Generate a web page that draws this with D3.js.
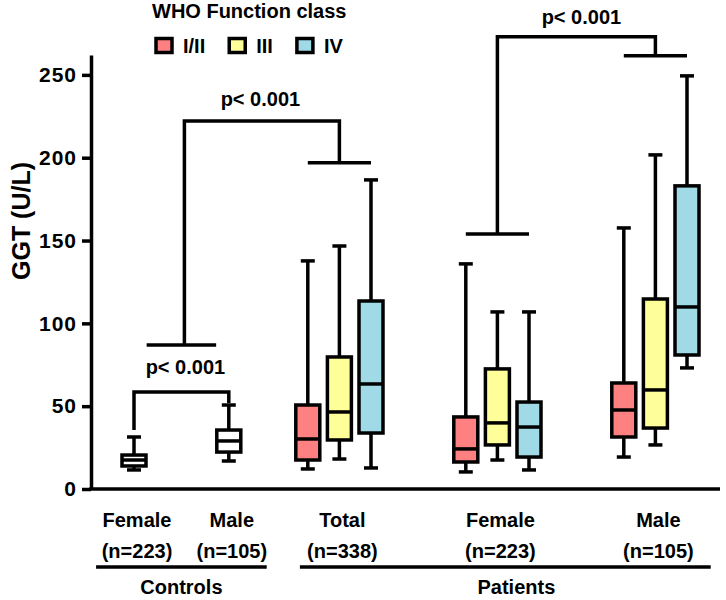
<!DOCTYPE html>
<html><head><meta charset="utf-8">
<script src="https://cdn.jsdelivr.net/npm/d3@7"></script>
<style>
body{margin:0;background:#fff}
svg{display:block}
text{font-family:"Liberation Sans",Arial,Helvetica,sans-serif;font-weight:bold;fill:#000}
</style>
</head><body>
<svg id="chart" width="726" height="600"></svg>
<script>
// ---------- DATA ----------
const classes = ["I/II", "III", "IV"];
const groupNames = ["Female", "Male", "Total", "Female", "Male"];
const groupN = ["(n=223)", "(n=105)", "(n=338)", "(n=223)", "(n=105)"];
const cohorts = ["Controls", "Patients"];
const yTicks = [0, 50, 100, 150, 200, 250];
const yTitle = "GGT (U/L)";
const legendTitle = "WHO Function class";
// five-number summaries: [low whisker, Q1, median, Q3, high whisker]
const controlsFemale = [11.5, 13.9, 17.5, 20.5, 31.4];
const controlsMale   = [16.9, 22.3, 29.0, 35.6, 50.7];
const patientsTotal  = [[12.1, 17.5, 30.2, 50.7, 137.7], [18.1, 29.6, 46.5, 79.7, 146.7], [12.7, 33.8, 63.4, 113.5, 186.6]];
const patientsFemale = [[10.3, 16.3, 24.2, 43.5, 135.9], [17.5, 26.6, 39.9, 72.5, 106.9], [11.5, 19.3, 37.4, 52.5, 106.9]];
const patientsMale   = [[19.3, 31.4, 47.7, 64.0, 157.6], [26.6, 36.8, 59.8, 114.7, 201.7], [73.1, 80.9, 109.9, 183.0, 249.4]];
// significance brackets (y in U/L): [left leg end, top, right leg end]
const pLabels = ["p< 0.001", "p< 0.001", "p< 0.001"];
const bracketControls = [35.6, 58.6, 51.9];
const bracketCtrlTotal = [87.0, 222.2, 196.9];
const bracketPatFM = [154.0, 273.0, 261.5];

// ---------- STYLE / LAYOUT ----------
const colors = ["#FF8080", "#FFFF99", "#A0DAE6"];
const svg = d3.select("#chart");
const groupGaps = [3, 2.5, 3, 3];     // slot gaps between groups
const boxW = 24, capW = 14, lw = 3.5;

const groups = [
  {name: groupNames[0], n: groupN[0], boxes: [{cls: -1, s: controlsFemale}]},
  {name: groupNames[1], n: groupN[1], boxes: [{cls: -1, s: controlsMale}]},
  {name: groupNames[2], n: groupN[2], boxes: patientsTotal.map((s, i) => ({cls: i, s}))},
  {name: groupNames[3], n: groupN[3], boxes: patientsFemale.map((s, i) => ({cls: i, s}))},
  {name: groupNames[4], n: groupN[4], boxes: patientsMale.map((s, i) => ({cls: i, s}))}
];
let slot = 0;
groups.forEach((g, i) => {
  if (i > 0) slot += groupGaps[i - 1];
  g.boxes.forEach((b, j) => { b.slot = slot + j; });
  slot += g.boxes.length - 1;
  g.center = d3.mean(g.boxes, b => b.slot);
});

const x = d3.scaleLinear().domain([0, 17.5]).range([134, 687]);
const y = d3.scaleLinear().domain([0, 262]).range([489, 55]);
const axisX = 91, plotRight = 720;

// ---------- AXES ----------
const yAxis = svg.append("g").attr("transform", `translate(${axisX},0)`)
  .call(d3.axisLeft(y).tickValues(yTicks).tickSize(9).tickSizeOuter(0).tickPadding(5));
yAxis.select(".domain").attr("stroke", "#000").attr("stroke-width", lw);
yAxis.selectAll(".tick line").attr("stroke", "#000").attr("stroke-width", lw);
yAxis.selectAll(".tick text").attr("font-size", 21).attr("letter-spacing", 1)
  .attr("font-family", '"Liberation Sans",Arial,sans-serif').attr("font-weight", "bold").attr("fill", "#000");

svg.append("line").attr("x1", axisX - lw / 2).attr("x2", plotRight)
  .attr("y1", y(0)).attr("y2", y(0)).attr("stroke", "#000").attr("stroke-width", lw);

svg.append("text").attr("transform", `translate(30,${(y(0) + y(262)) / 2 - 51}) rotate(-90)`)
  .attr("text-anchor", "middle").attr("font-size", 25).text(yTitle);

// ---------- BOXES ----------
const allBoxes = groups.flatMap(g => g.boxes);
const bg = svg.append("g");
allBoxes.forEach(b => {
  const cx = x(b.slot), [lo, q1, med, q3, hi] = b.s;
  const g = bg.append("g").attr("stroke", "#000").attr("stroke-width", lw);
  g.append("line").attr("x1", cx).attr("x2", cx).attr("y1", y(hi)).attr("y2", y(lo));
  g.append("line").attr("x1", cx - capW / 2).attr("x2", cx + capW / 2).attr("y1", y(hi)).attr("y2", y(hi));
  g.append("line").attr("x1", cx - capW / 2).attr("x2", cx + capW / 2).attr("y1", y(lo)).attr("y2", y(lo));
  g.append("rect").attr("x", cx - boxW / 2).attr("width", boxW)
    .attr("y", y(q3)).attr("height", y(q1) - y(q3))
    .attr("fill", b.cls < 0 ? "#fff" : colors[b.cls]);
  g.append("line").attr("x1", cx - boxW / 2).attr("x2", cx + boxW / 2).attr("y1", y(med)).attr("y2", y(med));
});

// ---------- BRACKETS ----------
const br = svg.append("g").attr("fill", "none").attr("stroke", "#000").attr("stroke-width", lw);
function bar(xc, half, v) {
  br.append("line").attr("x1", x(xc - half)).attr("x2", x(xc + half)).attr("y1", y(v)).attr("y2", y(v));
}
function label(xc, v, gap, t) {
  svg.append("text").attr("x", xc).attr("y", y(v) - gap).attr("text-anchor", "middle")
    .attr("font-size", 20).text(t);
}
// controls female vs male
const c0 = groups[0].boxes[0].slot, c1 = groups[1].boxes[0].slot;
br.append("path").attr("d", `M${x(c0)},${y(bracketControls[0])}V${y(bracketControls[1])}H${x(c1)}V${y(bracketControls[2])}`);
label(x((c0 + c1) / 2) + 4, bracketControls[1], 18, pLabels[0]);
// controls vs patients total
const cc = (c0 + c1) / 2, tc = groups[2].center;
bar(cc, 1.1, bracketCtrlTotal[0]);
bar(tc, 1, bracketCtrlTotal[2]);
br.append("path").attr("d", `M${x(cc) + 3},${y(bracketCtrlTotal[0])}V${y(bracketCtrlTotal[1])}H${x(tc)}V${y(bracketCtrlTotal[2])}`);
label(x((cc + tc) / 2), bracketCtrlTotal[1], 15, pLabels[1]);
// patients female vs male
const fc = groups[3].center, mc = groups[4].center;
bar(fc, 1, bracketPatFM[0]);
bar(mc, 1, bracketPatFM[2]);
br.append("path").attr("d", `M${x(fc)},${y(bracketPatFM[0])}V${y(bracketPatFM[1])}H${x(mc)}V${y(bracketPatFM[2])}`);
label(x((fc + mc) / 2) + 5, bracketPatFM[1], 13, pLabels[2]);

// ---------- X CATEGORY LABELS ----------
groups.forEach(g => {
  svg.append("text").attr("x", x(g.center) + 3).attr("y", 527).attr("text-anchor", "middle")
    .attr("font-size", 20).text(g.name);
  svg.append("text").attr("x", x(g.center) + 3).attr("y", 558).attr("text-anchor", "middle")
    .attr("font-size", 20).text(g.n);
});
const cohortSpans = [[-1.2, 4.2, 1.5], [5.25, 18.25, 12.1]];
cohorts.forEach((c, i) => {
  const [a, b, m] = cohortSpans[i];
  svg.append("line").attr("x1", x(a)).attr("x2", x(b)).attr("y1", 567).attr("y2", 567)
    .attr("stroke", "#000").attr("stroke-width", 3.5);
  svg.append("text").attr("x", x(m)).attr("y", 594).attr("text-anchor", "middle")
    .attr("font-size", 20).text(c);
});

// ---------- LEGEND ----------
const lg = svg.append("g");
lg.append("text").attr("x", 152).attr("y", 18).attr("font-size", 20).text(legendTitle);
let lx = 156;
classes.forEach((c, i) => {
  lg.append("rect").attr("x", lx).attr("y", 38.5).attr("width", 16).attr("height", 14)
    .attr("fill", colors[i]).attr("stroke", "#000").attr("stroke-width", lw);
  const t = lg.append("text").attr("x", lx + 27).attr("y", 53).attr("font-size", 20).text(c);
  lx += 27 + t.node().getComputedTextLength() + 24;
});
</script>
</body></html>
